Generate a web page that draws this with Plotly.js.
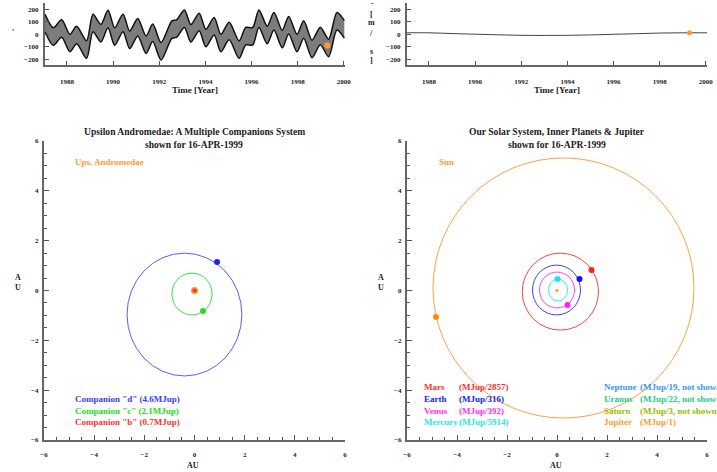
<!DOCTYPE html>
<html><head><meta charset="utf-8">
<script src="https://cdn.plot.ly/plotly-3.0.1.min.js"></script>
<style>body{margin:0;background:#fff}#chart{width:717px;height:472px}</style>
</head><body><div id="chart"></div>
<script>
// ---------- DATA ----------
// Upsilon Andromedae radial velocity band (envelopes)
const rvYears = [1987.05, 1987.41, 1987.77, 1988.13, 1988.42, 1988.85, 1989.13, 1989.47, 1989.78, 1990.07, 1990.43, 1990.72, 1991.07, 1991.43, 1991.72, 1992.08, 1992.55, 1992.75, 1993.09, 1993.37, 1993.73, 1994.02, 1994.38, 1994.67, 1995.03, 1995.46, 1995.75, 1996.05, 1996.32, 1996.68, 1996.97, 1997.33, 1997.61, 1997.97, 1998.26, 1998.62, 1998.98, 1999.34, 1999.70, 2000.02];
const rvUpper = [161, 52, 116, 0, 64, -52, 161, 79, 192, 52, 161, 26, 127, -13, 82, -65, 108, 115, 194, 79, 169, 40, 135, 0, 96, -52, 55, 55, 194, 65, 174, 32, 143, 0, 108, -47, 56, -39, 174, 110];
const rvLower = [21, -88, -24, -140, -76, -192, 21, -61, 52, -88, 21, -114, -13, -153, -58, -205, -32, -25, 54, -61, 29, -100, -5, -140, -44, -192, -85, -85, 54, -75, 34, -108, 3, -140, -32, -187, -84, -179, 34, -30];
const rvNowYear = [1999.29];
const rvNowValue = [-90];

// Sun reflex velocity (solar system)
const srYears = [1987.05, 1988.0, 1989.0, 1990.0, 1991.0, 1992.0, 1993.0, 1994.0, 1995.0, 1996.0, 1997.0, 1998.0, 1999.0, 2000.05];
const srValues = [12, 12, 6, 1, -4, -8, -9, -8, -5, 0, 5, 10, 12, 12];
const srNowYear = [1999.29];
const srNowValue = [12];

// Ups And orbits (bounding boxes, AU): d, c
const upsOrbitNames = ['d', 'c'];
const upsOrbitLeft = [-2.69, -0.90];
const upsOrbitRight = [1.89, 0.70];
const upsOrbitBottom = [-3.43, -0.98];
const upsOrbitTop = [1.50, 0.70];
// Ups And bodies: star, b, c, d
const upsBodyNames = ['Ups. Andromedae', 'b', 'c', 'd'];
const upsBodyX = [0, 0, 0.34, 0.90];
const upsBodyY = [0, 0, -0.82, 1.14];

// Solar system orbits: Jupiter, Mars, Earth, Venus, Mercury
const solOrbitNames = ['Jupiter', 'Mars', 'Earth', 'Venus', 'Mercury'];
const solOrbitLeft = [-4.96, -1.39, -0.98, -0.70, -0.34];
const solOrbitRight = [5.48, 1.66, 0.94, 0.70, 0.42];
const solOrbitBottom = [-5.12, -1.59, -0.98, -0.70, -0.42];
const solOrbitTop = [5.32, 1.50, 1.02, 0.74, 0.46];
const solBodyNames = ['Sun', 'Jupiter', 'Mars', 'Earth', 'Venus', 'Mercury'];
const solBodyX = [0, -4.84, 1.38, 0.90, 0.42, 0.02];
const solBodyY = [0, -1.06, 0.82, 0.46, -0.58, 0.46];

// Legend texts
const upsLegend = ['Companion "d" (4.6MJup)', 'Companion "c" (2.1MJup)', 'Companion "b" (0.7MJup)'];
const solLegendLeftNames = ['Mars', 'Earth', 'Venus', 'Mercury'];
const solLegendLeftMass = ['(MJup/2857)', '(MJup/316)', '(MJup/392)', '(MJup/5914)'];
const solLegendRightNames = ['Neptune', 'Uranus', 'Saturn', 'Jupiter'];
const solLegendRightMass = ['(MJup/19, not shown)', '(MJup/22, not shown)', '(MJup/3, not shown)', '(MJup/1)'];

// ---------- STYLE ----------
const W = 717, H = 472;
const FONT = 'Liberation Serif';
const ORANGE = '#ff9a30';
const upsOrbitColors = ['#5a5aff', '#3ee03e'];
const upsBodyColors = [ORANGE, '#ff3030', '#22dd22', '#2020ff'];
const upsBodySizes = [7, 4, 6, 6];
const solOrbitColors = ['#ffa040', '#ff4040', '#4040ff', '#ff40ff', '#30f0f0'];
const solBodyColors = [ORANGE, '#ff8a10', '#ff2020', '#1010ff', '#ff20ff', '#20e0f0'];
const solBodySizes = [3, 6, 6, 6, 6, 6];
const upsLegendColors = ['#3a3aff', '#22dd22', '#ff3030'];
const solLeftColors = ['#ff3030', '#2020ff', '#ff30ff', '#20e8f0'];
const solRightColors = ['#3399ff', '#22cc88', '#99bb00', '#ff9a30'];

const px = v => v / W;
const py = v => 1 - v / H;

const tickFont = {family: FONT, size: 7, color: '#222', weight: 'bold'};
const axBase = {
  showline: true, linecolor: '#666', linewidth: 2, ticks: 'inside', tickcolor: '#555',
  tickwidth: 1, ticklen: 4, showgrid: false, zeroline: false, tickfont: tickFont, fixedrange: true
};

const traces = [];
// top-left band
traces.push({x: rvYears, y: rvLower, xaxis: 'x', yaxis: 'y', mode: 'lines', line: {color: '#111', width: 1.5, shape: 'spline', smoothing: 0.8}, hoverinfo: 'skip'});
traces.push({x: rvYears, y: rvUpper, xaxis: 'x', yaxis: 'y', mode: 'lines', fill: 'tonexty',
  fillcolor: '#777', fillpattern: {shape: '-', bgcolor: '#4a4a4a', fgcolor: '#c8c8c8', size: 2, solidity: 0.4},
  line: {color: '#111', width: 1.5, shape: 'spline', smoothing: 0.8}, hoverinfo: 'skip'});
traces.push({x: rvNowYear, y: rvNowValue, xaxis: 'x', yaxis: 'y', mode: 'markers', marker: {color: ORANGE, size: 6}});
// top-right
traces.push({x: srYears, y: srValues, xaxis: 'x2', yaxis: 'y2', mode: 'lines', line: {color: '#444', width: 1, shape: 'spline'}});
traces.push({x: srNowYear, y: srNowValue, xaxis: 'x2', yaxis: 'y2', mode: 'markers', marker: {color: ORANGE, size: 5}});
// bottom-left bodies
for (let i = 0; i < upsBodyX.length; i++) {
  traces.push({x: [upsBodyX[i]], y: [upsBodyY[i]], xaxis: 'x3', yaxis: 'y3', mode: 'markers', name: upsBodyNames[i],
    marker: {color: upsBodyColors[i], size: upsBodySizes[i]}});
}
// bottom-right bodies
for (let i = 0; i < solBodyX.length; i++) {
  traces.push({x: [solBodyX[i]], y: [solBodyY[i]], xaxis: 'x4', yaxis: 'y4', mode: 'markers', name: solBodyNames[i],
    marker: {color: solBodyColors[i], size: solBodySizes[i]}});
}

const shapes = [];
for (let i = 0; i < upsOrbitLeft.length; i++) {
  shapes.push({type: 'circle', xref: 'x3', yref: 'y3', x0: upsOrbitLeft[i], x1: upsOrbitRight[i], y0: upsOrbitBottom[i], y1: upsOrbitTop[i],
    line: {color: upsOrbitColors[i], width: 1}, layer: 'below'});
}
for (let i = 0; i < solOrbitLeft.length; i++) {
  shapes.push({type: 'circle', xref: 'x4', yref: 'y4', x0: solOrbitLeft[i], x1: solOrbitRight[i], y0: solOrbitBottom[i], y1: solOrbitTop[i],
    line: {color: solOrbitColors[i], width: 1}, layer: 'below'});
}

const anns = [];
function ann(text, x, y, color, size, xanchor) {
  anns.push({text: text, xref: 'paper', yref: 'paper', x: px(x), y: py(y), xanchor: xanchor || 'center', yanchor: 'middle',
    showarrow: false, font: {family: FONT, size: size || 9, color: color || '#222', weight: 'bold'}});
}
// top axes titles
ann('Time [Year]', 195, 90, '#222', 9);
ann('Time [Year]', 557, 90, '#222', 9);
ann("'", 13, 32, '#222', 8);
ann('-', 372, 4, '#222', 8);
const vchars = ['[', 'm', '/', 's', ']'];
const vcharY = [14, 23, 33, 51, 61];
for (let i = 0; i < vchars.length; i++) ann(vchars[i], 371, vcharY[i], '#222', 8);
// bottom titles
ann('Upsilon Andromedae: A Multiple Companions System', 194, 132, '#222', 9.6);
ann('shown for 16-APR-1999', 194, 144, '#222', 9.6);
ann('Our Solar System, Inner Planets &amp; Jupiter', 557, 132, '#222', 9.6);
ann('shown for 16-APR-1999', 557, 144, '#222', 9.6);
ann('Ups. Andromedae', 73, 162, ORANGE, 9, 'left');
ann('Sun', 437, 162, ORANGE, 9, 'left');
ann('A', 18, 277, '#222', 8);
ann('U', 18, 287, '#222', 8);
ann('A', 381, 277, '#222', 8);
ann('U', 381, 287, '#222', 8);
ann('AU', 193, 465, '#222', 8);
ann('AU', 556, 465, '#222', 8);
const legY = [387, 399, 411, 422];
for (let i = 0; i < upsLegend.length; i++) ann(upsLegend[i], 73, legY[i + 1], upsLegendColors[i], 9, 'left');
for (let i = 0; i < 4; i++) {
  ann(solLegendLeftNames[i], 422, legY[i], solLeftColors[i], 9, 'left');
  ann(solLegendLeftMass[i], 457, legY[i], solLeftColors[i], 9, 'left');
  ann(solLegendRightNames[i], 602, legY[i], solRightColors[i], 9, 'left');
  ann(solLegendRightMass[i], 638, legY[i], solRightColors[i], 9, 'left');
}

const topX = Object.assign({}, axBase, {range: [1987.05, 2000.05], tick0: 1988, dtick: 2, ticklabelstandoff: 9});
const topY = Object.assign({}, axBase, {range: [-245, 250], tick0: 0, dtick: 100, ticklabelstandoff: 3});
const botX = Object.assign({}, axBase, {range: [-6, 6], tick0: 0, dtick: 2, ticklen: 5, ticklabelstandoff: 7,
  minor: {dtick: 0.5, ticks: 'inside', ticklen: 3, tickcolor: '#555'}});
const botY = Object.assign({}, axBase, {range: [-6, 6], tick0: 0, dtick: 2, ticklen: 5, ticklabelstandoff: 2,
  minor: {dtick: 0.5, ticks: 'inside', ticklen: 3, tickcolor: '#555'}});

const layout = {
  width: W, height: H, margin: {l: 0, r: 0, t: 0, b: 0}, showlegend: false,
  paper_bgcolor: '#fff', plot_bgcolor: 'rgba(0,0,0,0)',
  xaxis: Object.assign({}, topX, {domain: [px(45), px(345)], anchor: 'y'}),
  yaxis: Object.assign({}, topY, {domain: [py(65), py(3)], anchor: 'x'}),
  xaxis2: Object.assign({}, topX, {domain: [px(407), px(707)], anchor: 'y2'}),
  yaxis2: Object.assign({}, topY, {domain: [py(65), py(3)], anchor: 'x2'}),
  xaxis3: Object.assign({}, botX, {domain: [px(44), px(345)], anchor: 'y3'}),
  yaxis3: Object.assign({}, botY, {domain: [py(440), py(141)], anchor: 'x3'}),
  xaxis4: Object.assign({}, botX, {domain: [px(407), px(707)], anchor: 'y4'}),
  yaxis4: Object.assign({}, botY, {domain: [py(440), py(141)], anchor: 'x4'}),
  shapes: shapes, annotations: anns
};
Plotly.newPlot('chart', traces, layout, {displayModeBar: false, staticPlot: true});
</script></body></html>
